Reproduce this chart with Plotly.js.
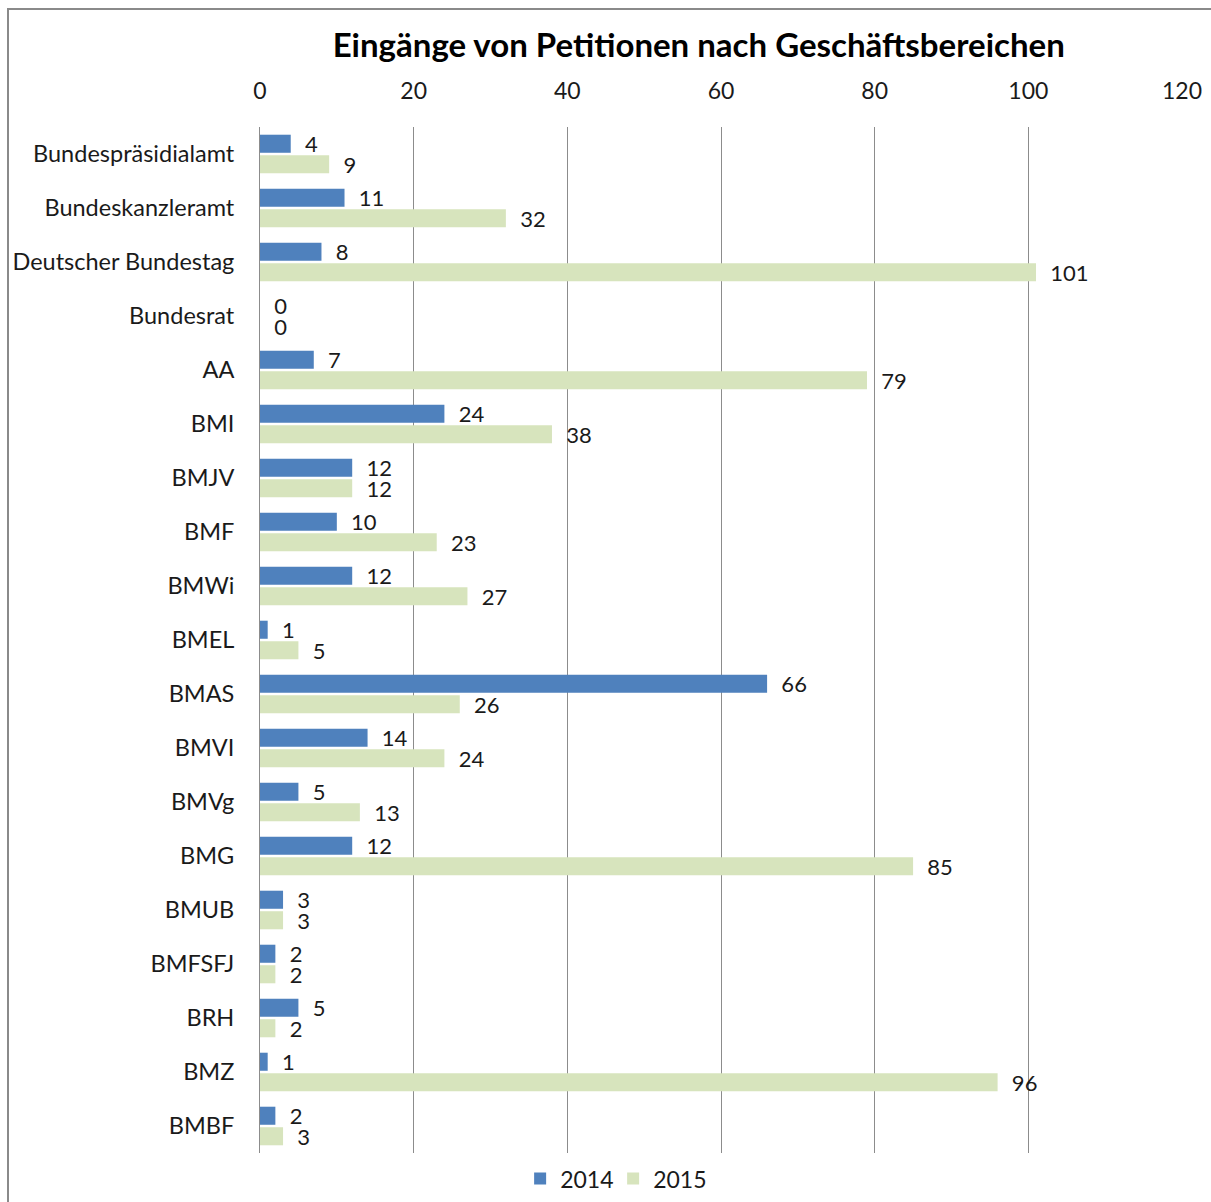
<!DOCTYPE html>
<html>
<head>
<meta charset="utf-8">
<script src="https://cdn.plot.ly/plotly-3.0.1.min.js"></script>
<style>
  html, body { margin:0; padding:0; background:#fff; }
  #wrap { position:relative; width:1211px; height:1202px; overflow:hidden; }
  #frame { position:absolute; left:7px; top:8px; width:1300px; height:1300px; border-left:2px solid #8a8a8a; border-top:2px solid #8a8a8a; pointer-events:none; z-index:2; }
  #chart { position:absolute; left:0; top:0; width:1211px; height:1202px; }
</style>
</head>
<body>
<div id="wrap"><div id="chart"></div><div id="frame"></div></div>
<script>
const categories = ["Bundespräsidialamt","Bundeskanzleramt","Deutscher Bundestag","Bundesrat","AA","BMI","BMJV","BMF","BMWi","BMEL","BMAS","BMVI","BMVg","BMG","BMUB","BMFSFJ","BRH","BMZ","BMBF"];
const values2014 = [4,11,8,0,7,24,12,10,12,1,66,14,5,12,3,2,5,1,2];
const values2015 = [9,32,101,0,79,38,12,23,27,5,26,24,13,85,3,2,2,96,3];
const seriesNames = ["2014","2015"];
const xTicks = [0,20,40,60,80,100,120];

const FONT = "Lato, 'Open Sans', sans-serif";
const pad = "\u00a0\u00a0";
function trace(vals, name, color) {
  return {
    type: "bar", orientation: "h", name: name,
    y: categories, x: vals,
    marker: { color: color },
    text: vals.map(v => pad + v),
    textposition: "outside",
    textfont: { family: FONT, size: 22, color: "#1a1a1a" },
    cliponaxis: false, constraintext: "none",
    hoverinfo: "x+y"
  };
}
const data = [
  trace(values2014, seriesNames[0], "#4F81BD"),
  trace(values2015, seriesNames[1], "#D7E4BD")
];
const layout = {
  width: 1211, height: 1202,
  margin: { l: 260, r: 29, t: 127, b: 49, autoexpand: false },
  paper_bgcolor: "#fff", plot_bgcolor: "#fff",
  font: { family: FONT, size: 23, color: "#1a1a1a" },
  title: { text: "<b>Eingänge von Petitionen nach Geschäftsbereichen</b>", font: { family: FONT, size: 33, color: "#000" }, x: 0.577, xanchor: "center", y: 0.9626, yanchor: "middle" },
  barmode: "group", bargap: 0.24, bargroupgap: 0.12,
  xaxis: {
    side: "top", range: [0, 120], tickvals: xTicks, ticktext: xTicks.map(String),
    showgrid: true, gridcolor: "#8c8c8c", gridwidth: 1,
    zeroline: false, showline: false,
    ticks: "outside", ticklen: 18, tickcolor: "rgba(0,0,0,0)",
    tickfont: { family: FONT, size: 23, color: "#1a1a1a" },
    fixedrange: true
  },
  yaxis: {
    autorange: "reversed", type: "category",
    showline: true, linecolor: "#8c8c8c", linewidth: 1,
    showgrid: false, zeroline: false,
    ticks: "outside", ticklen: 20, tickcolor: "rgba(0,0,0,0)",
    tickfont: { family: FONT, size: 23.5, color: "#1a1a1a" },
    fixedrange: true
  },
  legend: { orientation: "h", x: 0.383, xanchor: "center", y: -0.004, yanchor: "top", font: { family: FONT, size: 23, color: "#1a1a1a" }, traceorder: "normal", entrywidth: 48 },
  showlegend: true
};
Plotly.newPlot("chart", data, layout, { displayModeBar: false, staticPlot: true });
</script>
</body>
</html>
